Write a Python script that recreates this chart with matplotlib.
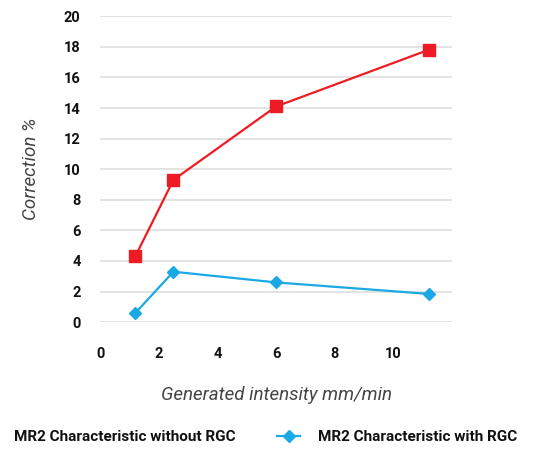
import matplotlib.pyplot as plt
from matplotlib.lines import Line2D

# values
intensity = [1.2, 2.5, 6.0, 11.2]
without_rgc = [4.3, 9.3, 14.1, 17.8]
with_rgc = [0.6, 3.3, 2.6, 1.85]
x_ticks = [0, 2, 4, 6, 8, 10]
y_ticks = [0, 2, 4, 6, 8, 10, 12, 14, 16, 18, 20]

red = "#ed1c24"
blue = "#1ba9e6"
plt.rcParams["font.family"] = ["Roboto", "DejaVu Sans"]

fig = plt.figure(figsize=(5.5, 4.5), dpi=100)
ax = fig.add_axes([0.182, 0.284, 0.64, 0.68])

ax.plot(intensity, without_rgc, color=red, lw=1.6, marker="s", ms=8,
        label="MR2 Characteristic without RGC", zorder=3)
ax.plot(intensity, with_rgc, color=blue, lw=1.6, marker="D", ms=6,
        label="MR2 Characteristic with RGC", zorder=3)

ax.set_xlim(0, 12)
ax.set_ylim(0, 20)
ax.set_xticks(x_ticks)
ax.set_yticks(y_ticks)
ax.grid(axis="y", color="#dedede", lw=1.2)
ax.set_axisbelow(True)
for s in ax.spines.values():
    s.set_visible(False)
ax.tick_params(length=0, labelsize=10.5)
ax.tick_params(axis="x", pad=18)
ax.tick_params(axis="y", pad=14)
for lab in ax.get_xticklabels() + ax.get_yticklabels():
    lab.set_fontweight("bold")
    lab.set_color("#111111")

ax.set_ylabel("Correction %", fontsize=13.5, style="italic", color="#444444",
              labelpad=17)
ax.set_xlabel("Generated intensity mm/min", fontsize=13.5, style="italic",
              color="#444444", labelpad=18)

handles = [Line2D([], [], color="none"),
           Line2D([], [], color=blue, marker="D", ms=6, lw=1.6)]
labels = ["MR2 Characteristic without RGC", "MR2 Characteristic with RGC"]
leg = fig.legend(handles, labels, loc="lower left", ncol=2, frameon=False,
                 bbox_to_anchor=(-0.06, 0.0), prop={"weight": "bold", "size": 11},
                 handlelength=1.5, columnspacing=2.7, handletextpad=1.2,
                 borderaxespad=0.0)
for t in leg.get_texts():
    t.set_color("#111111")

fig.savefig("out.png", dpi=100)
